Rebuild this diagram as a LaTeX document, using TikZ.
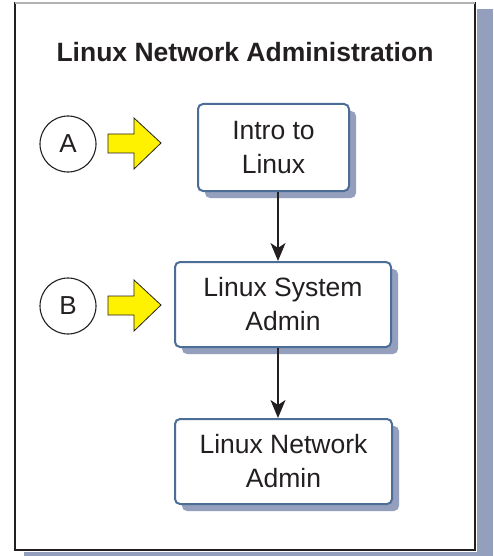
\documentclass[tikz,border=0pt]{standalone}
\usepackage{fontspec}
\setmainfont{Liberation Sans}
\usetikzlibrary{arrows.meta,shadows}

\begin{document}
\begin{tikzpicture}[x=1pt, y=-1pt,
    courseBox/.style={draw=borderBlue, line width=2pt, fill=white, rounded corners=5pt,
        align=center, inner sep=0pt, text=textColour,
        font=\fontsize{26.5}{34}\selectfont,
        drop shadow={shadow xshift=7pt, shadow yshift=-7pt, fill=shadowBlue, opacity=1}},
    stepMark/.style={circle, draw=textColour, line width=1.1pt, minimum size=56pt, inner sep=0pt,
        text=textColour, font=\fontsize{26}{26}\selectfont},
    flowArrow/.style={line width=1.4pt, draw=textColour,
        -{Stealth[length=18pt, width=15pt, inset=5pt]}}]
    \definecolor{borderBlue}{HTML}{4B6D96}
    \definecolor{shadowBlue}{HTML}{939FBD}
    \definecolor{textColour}{HTML}{231F20}
    \definecolor{pointerYellow}{HTML}{FFF200}

    \useasboundingbox (0,0) rectangle (493,556);

    % Draw frame and its shadow
    \fill[shadowBlue] (24,9) rectangle (493,558);
    \fill[white] (13,1) rectangle (477,552);
    \draw[textColour, line width=1.3pt] (15,3) rectangle (475,550);
    \draw[gray!60, line width=1.3pt] (15,3) -- (475,3);

    % Title
    \node[font=\bfseries\fontsize{26.5}{26.5}\selectfont, text=textColour] (title) at (245,52)
        {Linux Network Administration};

    % Course boxes
    \node[courseBox, minimum width=151pt, minimum height=87pt] (intro) at (273.5,147.5)
        {Intro to\\Linux};
    \node[courseBox, minimum width=216pt, minimum height=85pt] (sysadmin) at (283,304.5)
        {Linux System\\Admin};
    \node[courseBox, minimum width=217pt, minimum height=85pt] (netadmin) at (283.5,461.5)
        {Linux Network\\Admin};

    % Connectors
    \draw[flowArrow] ([xshift=4.5pt]intro.south) -- ([xshift=-5pt]sysadmin.north);
    \draw[flowArrow] ([xshift=-5pt]sysadmin.south) -- ([xshift=-5.5pt]netadmin.north);

    % Entry points A and B
    \foreach \lbl/\yy in {A/144, B/306}{
        \node[stepMark] (mark\lbl) at (68,\yy) {\lbl};
        \filldraw[fill=pointerYellow, draw=textColour, line width=0.8pt]
            (108,\yy-10) -- (134,\yy-10) -- (134,\yy-26) -- (161,\yy-1)
            -- (134,\yy+25) -- (134,\yy+9) -- (108,\yy+9) -- cycle;
    }

\end{tikzpicture}
\end{document}
